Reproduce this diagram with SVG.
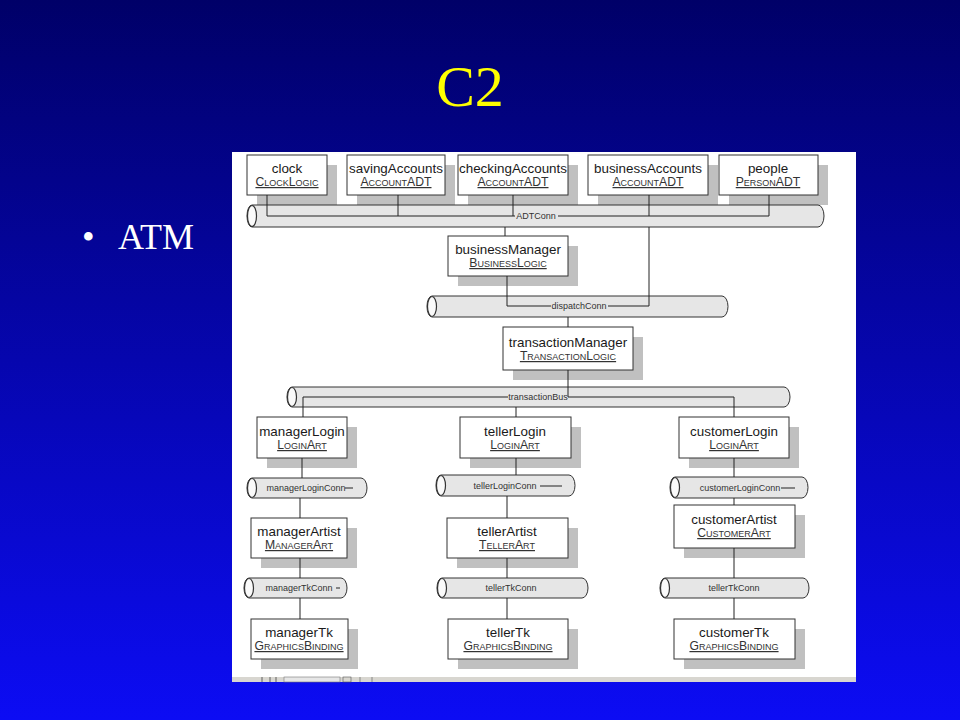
<svg xmlns="http://www.w3.org/2000/svg" width="960" height="720" viewBox="0 0 960 720">
<defs>
<linearGradient id="bg" x1="0" y1="0" x2="0" y2="1">
<stop offset="0" stop-color="#000068"/>
<stop offset="1" stop-color="#0c0cf4"/>
</linearGradient>
<style>
.sh{fill:#c0c0c0}
.bx{fill:#fff;stroke:#333;stroke-width:1}
.nm{font-family:"Liberation Sans",Arial,sans-serif;font-size:13.4px;fill:#1a1a1a;text-anchor:middle}
.cl{font-family:"Liberation Sans",Arial,sans-serif;font-size:12.2px;fill:#333;text-anchor:middle;font-variant:small-caps;text-decoration:underline}
.bus{fill:#e6e6e6;stroke:#333;stroke-width:1}
.end{fill:#fafafa;stroke:#333;stroke-width:1.2}
.bl{font-family:"Liberation Sans",Arial,sans-serif;font-size:9px;fill:#333;text-anchor:middle}
.ln{fill:none;stroke:#222;stroke-width:1}
</style>
</defs>
<rect x="0" y="0" width="960" height="720" fill="url(#bg)"/>
<text x="470" y="106" font-family="Liberation Serif,Times New Roman,serif" font-size="58" fill="#ffff00" text-anchor="middle">C2</text>
<text x="82" y="249" font-family="Liberation Serif,Times New Roman,serif" font-size="36" fill="#ffffff">•</text>
<text x="118" y="249" font-family="Liberation Serif,Times New Roman,serif" font-size="36" fill="#ffffff">ATM</text>
<rect x="232" y="152" width="624" height="525" fill="#ffffff"/>
<g id="toolbar">
<rect x="232" y="677" width="624" height="5" fill="#d8d6d0"/>
<rect x="284" y="677" width="56" height="5" fill="#e6e6e6" stroke="#777" stroke-width="0.6"/>
<line x1="262" y1="677" x2="262" y2="682" stroke="#444" stroke-width="0.8"/>
<line x1="270" y1="677" x2="270" y2="682" stroke="#444" stroke-width="0.8"/>
<line x1="276" y1="677" x2="276" y2="682" stroke="#444" stroke-width="0.8"/>
<rect x="343" y="677" width="8" height="5" fill="none" stroke="#555" stroke-width="0.6"/>
<line x1="360" y1="677" x2="360" y2="682" stroke="#555" stroke-width="0.6"/>
<line x1="372" y1="677" x2="372" y2="682" stroke="#555" stroke-width="0.6"/>
</g>

<g id="clock"><rect class="sh" x="257" y="165" width="80" height="40"/><rect class="bx" x="247" y="155" width="80" height="40"/><text class="nm" x="287" y="173">clock</text><text class="cl" x="287" y="186">ClockLogic</text></g>
<g id="savingAccounts"><rect class="sh" x="357" y="165" width="98" height="40"/><rect class="bx" x="347" y="155" width="98" height="40"/><text class="nm" x="396" y="173">savingAccounts</text><text class="cl" x="396" y="186">AccountADT</text></g>
<g id="checkingAccounts"><rect class="sh" x="468" y="165" width="110" height="40"/><rect class="bx" x="458" y="155" width="110" height="40"/><text class="nm" x="513" y="173">checkingAccounts</text><text class="cl" x="513" y="186">AccountADT</text></g>
<g id="businessAccounts"><rect class="sh" x="598" y="165" width="120" height="40"/><rect class="bx" x="588" y="155" width="120" height="40"/><text class="nm" x="648" y="173">businessAccounts</text><text class="cl" x="648" y="186">AccountADT</text></g>
<g id="people"><rect class="sh" x="729" y="165" width="99" height="40"/><rect class="bx" x="719" y="155" width="99" height="40"/><text class="nm" x="768" y="173">people</text><text class="cl" x="768" y="186">PersonADT</text></g>

<g id="businessManager"><rect class="sh" x="458" y="246" width="120" height="40"/><rect class="bx" x="448" y="236" width="120" height="40"/><text class="nm" x="508" y="254">businessManager</text><text class="cl" x="508" y="267">BusinessLogic</text></g>
<g id="transactionManager"><rect class="sh" x="513" y="337" width="130" height="43"/><rect class="bx" x="503" y="327" width="130" height="43"/><text class="nm" x="568" y="347">transactionManager</text><text class="cl" x="568" y="360">TransactionLogic</text></g>

<g id="managerLogin"><rect class="sh" x="267" y="427" width="90" height="41"/><rect class="bx" x="257" y="417" width="90" height="41"/><text class="nm" x="302" y="436">managerLogin</text><text class="cl" x="302" y="449">LoginArt</text></g>
<g id="tellerLogin"><rect class="sh" x="470" y="427" width="111" height="41"/><rect class="bx" x="460" y="417" width="111" height="41"/><text class="nm" x="515" y="436">tellerLogin</text><text class="cl" x="515" y="449">LoginArt</text></g>
<g id="customerLogin"><rect class="sh" x="689" y="427" width="110" height="41"/><rect class="bx" x="679" y="417" width="110" height="41"/><text class="nm" x="734" y="436">customerLogin</text><text class="cl" x="734" y="449">LoginArt</text></g>

<g id="managerArtist"><rect class="sh" x="261" y="528" width="96" height="40"/><rect class="bx" x="251" y="518" width="96" height="40"/><text class="nm" x="299" y="536">managerArtist</text><text class="cl" x="299" y="549">ManagerArt</text></g>
<g id="tellerArtist"><rect class="sh" x="457" y="528" width="121" height="40"/><rect class="bx" x="447" y="518" width="121" height="40"/><text class="nm" x="507" y="536">tellerArtist</text><text class="cl" x="507" y="549">TellerArt</text></g>
<g id="customerArtist"><rect class="sh" x="684" y="515" width="121" height="43"/><rect class="bx" x="674" y="505" width="121" height="43"/><text class="nm" x="734" y="524">customerArtist</text><text class="cl" x="734" y="537">CustomerArt</text></g>

<g id="managerTk"><rect class="sh" x="261" y="629" width="97" height="40"/><rect class="bx" x="251" y="619" width="97" height="40"/><text class="nm" x="299" y="637">managerTk</text><text class="cl" x="299" y="650">GraphicsBinding</text></g>
<g id="tellerTk"><rect class="sh" x="458" y="629" width="120" height="40"/><rect class="bx" x="448" y="619" width="120" height="40"/><text class="nm" x="508" y="637">tellerTk</text><text class="cl" x="508" y="650">GraphicsBinding</text></g>
<g id="customerTk"><rect class="sh" x="684" y="629" width="121" height="40"/><rect class="bx" x="674" y="619" width="121" height="40"/><text class="nm" x="734" y="637">customerTk</text><text class="cl" x="734" y="650">GraphicsBinding</text></g>

<g id="ADTConn"><path class="bus" d="M252,205 H818 A6,11 0 0 1 818,227 H252 A5,11 0 0 1 252,205 Z"/><ellipse class="end" cx="252" cy="216" rx="4.5" ry="10.5"/></g>
<g id="dispatchConn"><path class="bus" d="M432,296 H722 A6,10.5 0 0 1 722,317 H432 A5,10.5 0 0 1 432,296 Z"/><ellipse class="end" cx="432" cy="306.5" rx="4.5" ry="10"/></g>
<g id="transactionBus"><path class="bus" d="M292,387 H784 A6,10 0 0 1 784,407 H292 A5,10 0 0 1 292,387 Z"/><ellipse class="end" cx="292" cy="397" rx="4.5" ry="9.5"/></g>
<g id="managerLoginConn"><path class="bus" d="M252,478 H361 A6,10 0 0 1 361,498 H252 A5,10 0 0 1 252,478 Z"/><ellipse class="end" cx="252" cy="488" rx="4.5" ry="9.5"/></g>
<g id="tellerLoginConn"><path class="bus" d="M441,475 H569 A6,10.5 0 0 1 569,496 H441 A5,10.5 0 0 1 441,475 Z"/><ellipse class="end" cx="441" cy="485.5" rx="4.5" ry="10"/></g>
<g id="customerLoginConn"><path class="bus" d="M675,477 H802 A6,10.5 0 0 1 802,498 H675 A5,10.5 0 0 1 675,477 Z"/><ellipse class="end" cx="675" cy="487.5" rx="4.5" ry="10"/></g>
<g id="managerTkConn"><path class="bus" d="M249,578 H341 A6,10 0 0 1 341,598 H249 A5,10 0 0 1 249,578 Z"/><ellipse class="end" cx="249" cy="588" rx="4.5" ry="9.5"/></g>
<g id="tellerTkConn"><path class="bus" d="M442,578 H582 A6,10 0 0 1 582,598 H442 A5,10 0 0 1 442,578 Z"/><ellipse class="end" cx="442" cy="588" rx="4.5" ry="9.5"/></g>
<g id="customerTkConn"><path class="bus" d="M665,578 H803 A6,10 0 0 1 803,598 H665 A5,10 0 0 1 665,578 Z"/><ellipse class="end" cx="665" cy="588" rx="4.5" ry="9.5"/></g>

<g id="connectors">
<path class="ln" d="M267,195 V216 H515 M558,216 H769 V195 M398,195 V216 M513,195 V216 M649,195 V216"/>
<text class="bl" x="536" y="219">ADTConn</text>
<path class="ln" d="M505,227 V236 M649,227 V306 H608 M551,306 H507 V276"/>
<text class="bl" x="579" y="309">dispatchConn</text>
<path class="ln" d="M568,317 V327 M568,370 V397 H734 V417 M508,397 H303 V417 M516,407 V417"/>
<text class="bl" x="538" y="400">transactionBus</text>
<path class="ln" d="M302,458 V478 M300,498 V518 M300,558 V578 M300,598 V619"/>
<path class="ln" d="M516,458 V475 M507,496 V518 M507,558 V578 M507,598 V619"/>
<path class="ln" d="M734,458 V477 M734,498 V505 M734,548 V578 M734,598 V619"/>
<text class="bl" x="306" y="491">managerLoginConn</text>
<line class="ln" x1="345" y1="488" x2="353" y2="488"/>
<text class="bl" x="505" y="489">tellerLoginConn</text>
<line class="ln" x1="540" y1="486" x2="562" y2="486"/>
<text class="bl" x="740" y="491">customerLoginConn</text>
<line class="ln" x1="781" y1="488" x2="795" y2="488"/>
<text class="bl" x="299" y="591">managerTkConn</text>
<line class="ln" x1="336" y1="588" x2="340" y2="588"/>
<text class="bl" x="511" y="591">tellerTkConn</text>
<text class="bl" x="734" y="591">tellerTkConn</text>
</g>
</svg>
